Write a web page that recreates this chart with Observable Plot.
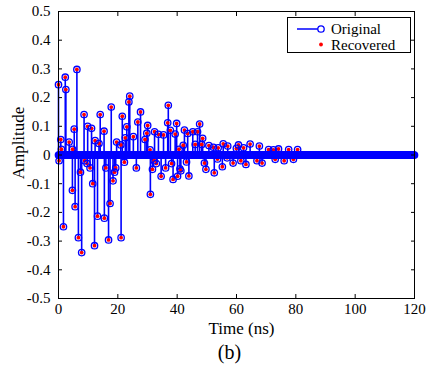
<!DOCTYPE html>
<html>
<head>
<meta charset="utf-8">
<script src="https://cdn.jsdelivr.net/npm/d3@7"></script>
<script src="https://cdn.jsdelivr.net/npm/@observablehq/plot@0.6"></script>
<style>
  html, body { margin: 0; padding: 0; background: #fff; }
  #chart { width: 431px; height: 366px; }
</style>
</head>
<body>
<div id="chart"></div>
<script>
// ---- data (time in ns, amplitude) ----
const sampleTime = [
  0, 0.2, 0.77, 0.97, 1.67, 2.28, 2.48, 3.59, 4.69, 4.75, 5.3, 5.6, 6.2, 6.71, 7.41, 7.81,
  8.62, 8.82, 9.63, 9.83, 10.63, 11.14, 11.54, 12.14, 12.34, 13.15, 13.65, 14.06, 15.36, 15.46,
  15.97, 16.87, 17.38, 17.78, 18.38, 18.89, 19.29, 19.59, 21.0, 21.1, 21.5, 22.21, 22.51, 23.02,
  23.72, 24.02, 25.23, 26.24, 26.74, 27.65, 29.16, 29.76, 30.06, 30.87, 30.97, 31.67, 32.28, 32.38,
  32.98, 33.69, 34.59, 35.4, 36.1, 36.81, 37.01, 37.71, 38.11, 38.62, 39.32, 39.83, 40.13, 40.63,
  40.93, 41.24, 42.04, 42.45, 43.15, 43.55, 43.95, 45.26, 46.07, 46.87, 47.58, 48.28, 48.59, 49.19,
  49.69, 50.7, 52.21, 52.51, 53.6, 53.82, 55.23, 55.53, 56.84, 57.04, 58.85, 59.96, 60.67, 61.47,
  62.38, 63.18, 64.59, 66.9, 67.71, 68.62, 70.83, 72.44, 73.05, 74.16, 76.07, 77.58, 79.19, 80.6
];
const originalAmp = [
  0.245, -0.02, 0.054, 0.02, -0.25, 0.271, 0.228, 0.045, -0.123, 0.02, 0.09, -0.18, 0.298, -0.288, -0.06, -0.34,
  0.141, -0.02, -0.03, 0.10, -0.045, 0.093, -0.10, -0.316, 0.05, -0.213, 0.04, 0.141, 0.083, -0.22,
  -0.045, -0.296, -0.169, 0.167, -0.09, -0.06, -0.045, 0.045, 0.035, -0.288, 0.135, -0.025, 0.06, 0.098,
  0.185, 0.205, 0.064, -0.045, 0.115, 0.15, 0.054, 0.076, 0.103, 0.018, -0.137, -0.05, -0.02, 0.081,
  -0.03, 0.072, -0.074, 0.07, -0.045, 0.112, 0.173, 0.086, -0.03, -0.085, 0.073, 0.11, -0.074, 0.02,
  -0.048, -0.055, 0.034, 0.087, -0.024, 0.075, -0.073, 0.081, 0.037, 0.081, 0.108, 0.037, 0.058, -0.028,
  -0.05, 0.033, 0.027, -0.062, -0.014, 0.025, -0.041, 0.039, -0.01, 0.031, -0.028, 0.023, 0.035, -0.02,
  0.025, -0.033, 0.038, -0.02, 0.031, -0.028, 0.019, 0.018, -0.015, 0.021, -0.02, 0.019, -0.015, 0.019
];
// recovered signal coincides with the original at this resolution
const recoveredAmp = originalAmp.slice();

// the remaining samples of the 0–120 ns record are zero (sampling grid)
const sampleStep = 0.2;
const zeroTimes = d3.range(0, 120 + 1e-9, sampleStep);

const xTicks = [0, 20, 40, 60, 80, 100, 120];
const yTicks = [-0.5, -0.4, -0.3, -0.2, -0.1, 0, 0.1, 0.2, 0.3, 0.4, 0.5];
const xLabel = "Time (ns)";
const yLabel = "Amplitude";
const caption = "(b)";
const seriesNames = ["Original", "Recovered"];

const points = sampleTime.map((t, i) => ({t, orig: originalAmp[i], rec: recoveredAmp[i]}));

const BLUE = "#0000ff", RED = "#ff0000";
const FONT = "'Liberation Serif', 'Times New Roman', serif";
const fmtY = d => d === 0 ? "0" : d.toFixed(1);

const svg = Plot.plot({
  width: 431,
  height: 366,
  marginLeft: 58,
  marginRight: 17,
  marginTop: 11,
  marginBottom: 68,
  style: {fontFamily: FONT, background: "#fff", color: "#000"},
  x: {domain: [0, 120]},
  y: {domain: [-0.5, 0.5]},
  marks: [
    Plot.ruleX(points, {x: "t", y1: 0, y2: "orig", stroke: BLUE, strokeWidth: 1.6}),
    Plot.dot(zeroTimes, {x: d => d, y: 0, r: 1.9, fill: RED}),
    Plot.dot(points, {x: "t", y: "rec", r: 1.9, fill: RED}),
    Plot.dot(zeroTimes, {x: d => d, y: 0, r: 3.2, stroke: BLUE, strokeWidth: 1.3, fill: "none"}),
    Plot.dot(points, {x: "t", y: "orig", r: 3.2, stroke: BLUE, strokeWidth: 1.3, fill: "none"}),
    Plot.frame({stroke: "#000", strokeWidth: 1}),
    Plot.axisX(xTicks, {anchor: "bottom", tickSize: -4, tickPadding: 9, fontSize: 15, label: null, tickFormat: d => String(d)}),
    Plot.axisX(xTicks, {anchor: "top", tickSize: -4, fontSize: 1, label: null, tickFormat: () => ""}),
    Plot.axisY(yTicks, {anchor: "left", tickSize: -4, tickPadding: 12, fontSize: 15, label: null, tickFormat: fmtY}),
    Plot.axisY(yTicks, {anchor: "right", tickSize: -4, fontSize: 1, label: null, tickFormat: () => ""}),
    Plot.text([xLabel], {frameAnchor: "bottom", dy: 30, dx: 5, fontSize: 17, textAnchor: "middle", lineAnchor: "middle"}),
    Plot.text([caption], {frameAnchor: "bottom", dy: 54, dx: -7, fontSize: 20, textAnchor: "middle", lineAnchor: "middle"}),
    Plot.text([yLabel], {frameAnchor: "left", rotate: -90, dx: -40, dy: -12, fontSize: 17, textAnchor: "middle", lineAnchor: "middle"})
  ]
});

// legend box (top-right, inside the axes)
const lg = d3.select(svg).append("g")
  .attr("font-family", FONT).attr("font-size", 15).attr("text-anchor", "start").attr("fill", "#000");
lg.append("rect").attr("x", 287.5).attr("y", 17.5).attr("width", 123).attr("height", 35)
  .attr("fill", "#fff").attr("stroke", "#000").attr("stroke-width", 1);
lg.append("line").attr("x1", 297).attr("x2", 321).attr("y1", 29).attr("y2", 29).attr("stroke", BLUE).attr("stroke-width", 1.5);
lg.append("circle").attr("cx", 321).attr("cy", 29).attr("r", 3.2).attr("fill", "#fff").attr("stroke", BLUE).attr("stroke-width", 1.3);
lg.append("text").attr("x", 331).attr("y", 29).attr("dy", "0.35em").attr("text-anchor", "start").text(seriesNames[0]);
lg.append("circle").attr("cx", 321).attr("cy", 44.5).attr("r", 1.9).attr("fill", RED);
lg.append("text").attr("x", 331).attr("y", 44.5).attr("dy", "0.35em").attr("text-anchor", "start").text(seriesNames[1]);

document.getElementById("chart").appendChild(svg);
</script>
</body>
</html>
